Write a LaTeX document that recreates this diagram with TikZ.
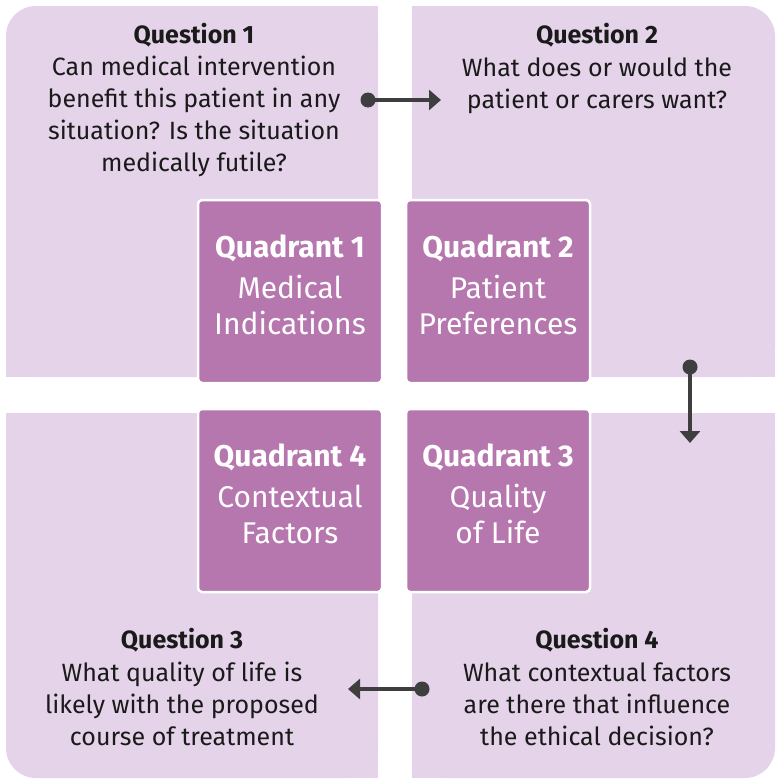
\documentclass[tikz,border=0pt]{standalone}
\usepackage{fontspec}
\setmainfont{Fira Sans}
\usetikzlibrary{arrows.meta}
\definecolor{panel}{HTML}{E4D3E9}
\definecolor{quad}{HTML}{B676AE}
\definecolor{arrowc}{HTML}{3E3E3E}
\definecolor{txt}{HTML}{1A1A1A}
\begin{document}
\begin{tikzpicture}[x=1pt,y=-1pt,
  panelfill/.style={fill=panel},
  quadbox/.style={fill=quad, draw=white, line width=2.5pt, rounded corners=4pt,
    minimum width=184pt, minimum height=183pt, inner sep=0pt},
  qtitle/.style={font=\fontsize{25}{32}\selectfont\bfseries, text=txt, inner sep=0pt, anchor=base},
  qbody/.style={font=\fontsize{25}{32}\selectfont, text=txt, align=center, inner sep=0pt, anchor=base},
  quadtitle/.style={font=\fontsize{30}{36}\selectfont\bfseries, text=white, inner sep=0pt, anchor=base},
  quadbody/.style={font=\fontsize{30}{36}\selectfont, text=white, align=center, inner sep=0pt, anchor=base},
  conn/.style={draw=arrowc, line width=4.5pt, -{Triangle[width=20pt,length=12pt]}},
  dot/.style={fill=arrowc}
]
\useasboundingbox (0,0) rectangle (776,779);
% panels
\fill[panelfill, rounded corners=30pt] (6,6) rectangle (378,377);
\fill[panelfill] (36,6) rectangle (378,377);
\fill[panelfill] (6,36) rectangle (378,377);
\fill[panelfill, rounded corners=30pt] (412,6) rectangle (775,377);
\fill[panelfill] (412,6) rectangle (745,377);
\fill[panelfill] (412,36) rectangle (775,377);
\fill[panelfill, rounded corners=30pt] (6,413) rectangle (378,778);
\fill[panelfill] (36,413) rectangle (378,778);
\fill[panelfill] (6,413) rectangle (378,748);
\fill[panelfill, rounded corners=30pt] (412,413) rectangle (775,778);
\fill[panelfill] (412,413) rectangle (745,778);
\fill[panelfill] (412,413) rectangle (775,748);
% quadrant boxes
\node[quadbox] (b1) at (290,291.5) {};
\node[quadbox] (b2) at (498,291.5) {};
\node[quadbox] (b4) at (290,500.5) {};
\node[quadbox] (b3) at (498,500.5) {};
\node[quadtitle] (b1t) at ([yshift=34.5pt]b1.center) {Quadrant 1};
\node[quadbody] (b1b) at ([yshift=-42.5pt]b1.center) {Medical\\Indications};
\node[quadtitle] (b2t) at ([yshift=34.5pt]b2.center) {Quadrant 2};
\node[quadbody] (b2b) at ([yshift=-42.5pt]b2.center) {Patient\\Preferences};
\node[quadtitle] (b4t) at ([yshift=34.5pt]b4.center) {Quadrant 4};
\node[quadbody] (b4b) at ([yshift=-42.5pt]b4.center) {Contextual\\Factors};
\node[quadtitle] (b3t) at ([yshift=34.5pt]b3.center) {Quadrant 3};
\node[quadbody] (b3b) at ([yshift=-42.5pt]b3.center) {Quality\\of Life};
% questions
\node[qtitle] (q1t) at (194,43) {Question 1};
\node[qbody] (q1b) at (194,171) {Can medical intervention\\benefit this patient in any\\situation? Is the situation\\medically futile?};
\node[qtitle] (q2t) at (597,43) {Question 2};
\node[qbody] (q2b) at (597,108) {What does or would the\\patient or carers want?};
\node[qtitle] (q3t) at (182,648) {Question 3};
\node[qbody] (q3b) at (182,745) {What quality of life is\\likely with the proposed\\course of treatment};
\node[qtitle] (q4t) at (597,648) {Question 4};
\node[qbody] (q4b) at (597,745) {What contextual factors\\are there that influence\\the ethical decision?};
% connectors
\coordinate (a1s) at (368,100);
\coordinate (a1e) at (441,100);
\coordinate (a2s) at (690,367);
\coordinate (a2e) at (690,443);
\coordinate (a3s) at (422,689);
\coordinate (a3e) at (348,689);
\draw[conn] (a1s) -- (a1e);
\draw[conn] (a2s) -- (a2e);
\draw[conn] (a3s) -- (a3e);
\fill[dot] (a1s) circle (7.5pt);
\fill[dot] (a2s) circle (7.5pt);
\fill[dot] (a3s) circle (7.5pt);
\end{tikzpicture}
\end{document}
